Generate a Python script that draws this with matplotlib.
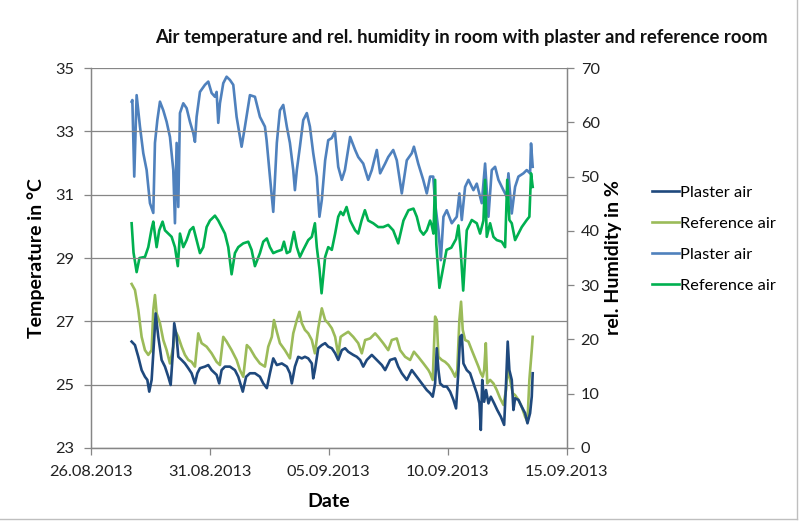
import matplotlib
matplotlib.use('Agg')
import matplotlib.pyplot as plt
import matplotlib.dates as mdates
from matplotlib.lines import Line2D
import numpy as np
import pandas as pd

START = pd.Timestamp('2013-08-26')

# (days since 26.08.2013, value) readings
plaster_temp = [
    (1.72, 26.36), (1.86, 26.25), (2.00, 25.88), (2.14, 25.46), (2.28, 25.25), (2.38, 25.15),
    (2.46, 24.78), (2.56, 25.15), (2.63, 25.99), (2.73, 27.25), (2.84, 26.51), (2.98, 25.78),
    (3.12, 25.57), (3.26, 25.25), (3.36, 24.99), (3.45, 25.99), (3.51, 26.94), (3.61, 26.51),
    (3.68, 25.88), (3.82, 25.78), (3.96, 25.67), (4.10, 25.52), (4.24, 25.36), (4.38, 25.04),
    (4.48, 25.36), (4.59, 25.52), (4.80, 25.57), (4.94, 25.62), (5.08, 25.46), (5.29, 25.31),
    (5.40, 25.04), (5.50, 25.46), (5.64, 25.57), (5.85, 25.57), (6.06, 25.46), (6.20, 25.25),
    (6.39, 24.78), (6.53, 25.25), (6.69, 25.36), (6.90, 25.36), (7.11, 25.25), (7.25, 25.04),
    (7.40, 24.89), (7.53, 25.36), (7.67, 25.83), (7.82, 25.62), (8.03, 25.67), (8.24, 25.57),
    (8.37, 25.36), (8.45, 25.04), (8.58, 25.57), (8.72, 25.88), (8.87, 25.83), (9.00, 25.88),
    (9.14, 25.83), (9.29, 25.67), (9.35, 25.20), (9.42, 25.46), (9.56, 26.15), (9.71, 26.25),
    (9.85, 26.31), (9.98, 26.20), (10.13, 26.15), (10.27, 25.99), (10.40, 25.78), (10.55, 26.09),
    (10.69, 26.15), (10.82, 26.04), (11.03, 25.94), (11.18, 25.88), (11.32, 25.78), (11.45, 25.57),
    (11.60, 25.78), (11.81, 25.94), (12.02, 25.78), (12.23, 25.62), (12.37, 25.46), (12.58, 25.78),
    (12.79, 25.83), (12.92, 25.57), (13.07, 25.36), (13.28, 25.15), (13.49, 25.46), (13.70, 25.25),
    (13.91, 25.04), (14.12, 24.83), (14.26, 24.73), (14.37, 24.62), (14.47, 25.04), (14.54, 26.15),
    (14.61, 25.46), (14.68, 25.04), (14.82, 24.94), (14.96, 24.94), (15.10, 24.78), (15.24, 24.52),
    (15.35, 24.25), (15.45, 25.46), (15.52, 26.51), (15.59, 26.57), (15.66, 25.67), (15.80, 25.46),
    (15.94, 25.36), (16.08, 25.04), (16.22, 24.73), (16.33, 24.41), (16.39, 23.57), (16.45, 25.15),
    (16.53, 24.46), (16.61, 24.83), (16.71, 24.41), (16.81, 24.62), (16.95, 24.41), (17.08, 24.20),
    (17.23, 23.99), (17.37, 23.73), (17.45, 25.04), (17.52, 26.36), (17.59, 25.46), (17.69, 25.15),
    (17.76, 24.20), (17.83, 24.57), (17.97, 24.52), (18.11, 24.30), (18.25, 24.10), (18.35, 23.78),
    (18.46, 24.10), (18.53, 24.62), (18.57, 25.36),
]

reference_temp = [
    (1.72, 28.18), (1.86, 27.99), (2.00, 27.36), (2.14, 26.51), (2.28, 26.09), (2.42, 25.94),
    (2.56, 26.09), (2.63, 27.36), (2.70, 27.83), (2.77, 27.25), (2.91, 26.94), (3.05, 26.41),
    (3.19, 26.09), (3.33, 25.67), (3.47, 26.20), (3.54, 26.73), (3.68, 26.51), (3.82, 26.20),
    (3.96, 25.94), (4.10, 25.78), (4.24, 25.72), (4.38, 25.57), (4.52, 26.62), (4.66, 26.31),
    (4.87, 26.20), (5.08, 25.99), (5.29, 25.72), (5.43, 25.62), (5.57, 26.51), (5.71, 26.36),
    (5.92, 26.09), (6.13, 25.78), (6.27, 25.46), (6.41, 25.25), (6.56, 26.25), (6.69, 26.15),
    (6.90, 25.88), (7.11, 25.67), (7.32, 25.57), (7.46, 26.20), (7.61, 26.51), (7.70, 27.04),
    (7.82, 26.67), (7.95, 26.31), (8.16, 26.09), (8.37, 25.83), (8.51, 26.62), (8.66, 27.04),
    (8.77, 27.30), (8.87, 26.94), (9.00, 26.73), (9.14, 26.62), (9.29, 26.41), (9.42, 25.99),
    (9.56, 26.78), (9.71, 27.41), (9.85, 27.04), (9.98, 26.94), (10.13, 26.78), (10.27, 26.51),
    (10.40, 25.94), (10.50, 26.51), (10.61, 26.57), (10.82, 26.67), (11.03, 26.51), (11.24, 26.31),
    (11.39, 25.99), (11.53, 26.41), (11.74, 26.46), (11.95, 26.62), (12.08, 26.51), (12.29, 26.31),
    (12.50, 26.09), (12.65, 26.41), (12.86, 26.46), (13.00, 26.09), (13.21, 25.88), (13.42, 25.78),
    (13.58, 26.04), (13.76, 25.88), (13.98, 25.67), (14.19, 25.46), (14.26, 25.36), (14.37, 25.15),
    (14.47, 27.15), (14.54, 27.04), (14.61, 25.88), (14.75, 25.78), (14.89, 25.72), (15.03, 25.62),
    (15.17, 25.46), (15.31, 25.25), (15.40, 25.46), (15.49, 27.04), (15.56, 27.62), (15.63, 26.73),
    (15.73, 26.41), (15.87, 26.36), (16.01, 26.09), (16.15, 25.83), (16.29, 25.57), (16.39, 25.36),
    (16.47, 25.25), (16.53, 25.46), (16.60, 26.31), (16.66, 25.04), (16.78, 25.15), (16.92, 25.04),
    (17.06, 24.83), (17.20, 24.57), (17.34, 24.36), (17.45, 24.83), (17.50, 25.46), (17.62, 25.15),
    (17.73, 24.73), (17.83, 24.67), (17.97, 24.52), (18.11, 24.30), (18.25, 23.99), (18.35, 23.83),
    (18.43, 25.15), (18.53, 26.09), (18.57, 26.51),
]

plaster_rh = [
    (1.72, 63.8), (1.75, 64.1), (1.83, 50.0), (1.93, 65.0), (2.07, 59.2), (2.21, 54.3),
    (2.35, 51.2), (2.49, 45.1), (2.63, 43.3), (2.70, 56.2), (2.80, 60.4), (2.91, 63.8),
    (3.05, 62.2), (3.19, 60.1), (3.33, 57.3), (3.47, 51.2), (3.54, 41.4), (3.61, 56.2),
    (3.68, 44.4), (3.75, 61.7), (3.89, 63.5), (4.03, 62.6), (4.17, 60.1), (4.31, 58.0),
    (4.38, 56.4), (4.45, 61.0), (4.59, 65.6), (4.80, 66.9), (4.94, 67.5), (5.08, 65.4),
    (5.22, 64.7), (5.29, 65.6), (5.36, 59.9), (5.43, 63.5), (5.57, 67.2), (5.71, 68.4),
    (5.85, 67.8), (5.99, 66.9), (6.13, 61.0), (6.34, 55.5), (6.48, 59.2), (6.69, 65.0),
    (6.90, 64.7), (7.11, 61.0), (7.32, 59.2), (7.39, 56.7), (7.53, 50.0), (7.67, 43.5),
    (7.82, 56.2), (7.95, 62.2), (8.09, 63.2), (8.24, 59.2), (8.37, 56.2), (8.51, 51.2),
    (8.58, 47.5), (8.66, 51.2), (8.79, 55.5), (8.93, 60.4), (9.08, 61.7), (9.21, 59.2),
    (9.35, 54.3), (9.50, 50.0), (9.61, 42.6), (9.71, 45.7), (9.85, 53.0), (9.98, 56.7),
    (10.13, 57.1), (10.26, 58.3), (10.40, 51.8), (10.55, 49.4), (10.68, 51.2), (10.90, 57.3),
    (11.11, 54.9), (11.24, 53.6), (11.45, 52.4), (11.66, 49.4), (11.81, 51.2), (12.02, 54.9),
    (12.16, 50.6), (12.37, 52.4), (12.50, 53.6), (12.71, 54.9), (12.86, 53.0), (13.07, 46.9),
    (13.28, 53.0), (13.49, 54.3), (13.58, 55.5), (13.76, 52.4), (13.97, 49.4), (14.12, 46.9),
    (14.26, 50.0), (14.39, 50.0), (14.47, 45.1), (14.61, 40.1), (14.71, 34.6), (14.82, 42.6),
    (14.96, 43.8), (15.17, 41.4), (15.38, 42.6), (15.49, 46.9), (15.59, 42.0), (15.73, 48.1),
    (15.87, 49.4), (16.08, 47.5), (16.22, 48.7), (16.43, 45.1), (16.57, 52.4), (16.71, 42.6),
    (16.85, 51.2), (16.99, 51.8), (17.13, 49.4), (17.34, 47.5), (17.48, 46.3), (17.55, 50.6),
    (17.69, 43.2), (17.83, 48.1), (17.97, 50.0), (18.18, 50.6), (18.32, 51.2), (18.46, 50.6),
    (18.50, 56.1), (18.57, 51.8),
]

reference_rh = [
    (1.72, 41.4), (1.80, 36.0), (1.93, 32.4), (2.05, 35.0), (2.28, 35.2), (2.42, 37.0),
    (2.56, 40.4), (2.63, 41.7), (2.70, 39.3), (2.77, 37.0), (2.88, 40.1), (3.02, 41.7),
    (3.12, 40.1), (3.26, 39.5), (3.40, 38.9), (3.54, 37.0), (3.66, 33.5), (3.75, 39.5),
    (3.89, 37.0), (4.03, 38.3), (4.17, 40.1), (4.31, 40.7), (4.45, 38.3), (4.59, 35.9),
    (4.73, 37.0), (4.87, 40.7), (5.01, 41.9), (5.22, 42.8), (5.36, 41.9), (5.50, 40.7),
    (5.64, 39.5), (5.78, 37.0), (5.92, 32.0), (6.06, 35.9), (6.20, 37.0), (6.41, 37.7),
    (6.62, 38.0), (6.76, 36.5), (6.90, 33.5), (7.11, 35.9), (7.25, 38.0), (7.40, 38.6),
    (7.53, 37.0), (7.67, 35.9), (7.82, 36.2), (8.02, 36.5), (8.12, 38.0), (8.24, 35.9),
    (8.37, 36.2), (8.54, 39.8), (8.66, 37.0), (8.79, 35.2), (8.93, 36.5), (9.14, 38.3),
    (9.29, 38.9), (9.42, 41.4), (9.50, 37.0), (9.61, 33.0), (9.70, 28.5), (9.85, 35.2),
    (9.98, 37.0), (10.13, 36.5), (10.27, 39.5), (10.40, 42.6), (10.50, 43.5), (10.61, 42.9),
    (10.75, 44.4), (10.90, 41.9), (11.11, 40.1), (11.24, 39.5), (11.38, 41.9), (11.52, 43.8),
    (11.66, 41.9), (11.87, 41.4), (12.08, 40.7), (12.29, 40.7), (12.50, 41.1), (12.71, 40.1),
    (12.92, 37.7), (13.14, 41.9), (13.35, 43.8), (13.56, 44.1), (13.70, 42.6), (13.84, 40.1),
    (13.98, 39.3), (14.12, 40.1), (14.26, 41.9), (14.33, 41.0), (14.40, 39.5), (14.47, 49.4),
    (14.52, 37.5), (14.65, 29.5), (14.80, 33.0), (14.95, 36.5), (15.15, 36.9), (15.35, 38.5),
    (15.45, 41.0), (15.55, 36.0), (15.65, 29.0), (15.80, 40.1), (16.01, 42.0), (16.22, 41.4),
    (16.36, 39.5), (16.50, 41.9), (16.57, 49.4), (16.64, 38.9), (16.78, 41.4), (16.92, 38.9),
    (17.06, 38.3), (17.27, 38.0), (17.41, 37.0), (17.50, 49.4), (17.59, 42.0), (17.69, 41.4),
    (17.83, 38.3), (17.97, 39.5), (18.11, 40.7), (18.32, 42.0), (18.43, 42.6), (18.50, 50.6),
    (18.57, 48.1),
]

temp_ticks = [23, 25, 27, 29, 31, 33, 35]
rh_ticks = [0, 10, 20, 30, 40, 50, 60, 70]
date_ticks = pd.date_range('2013-08-26', '2013-09-15', freq='5D')

COL_PT = '#1F497D'
COL_RT = '#9BBB59'
COL_PH = '#4F81BD'
COL_RH = '#00B050'
GRID = '#868686'

plt.rcParams['font.family'] = ['Lato', 'DejaVu Sans']


def to_series(pairs):
    d = np.array([p[0] for p in pairs])
    v = np.array([p[1] for p in pairs])
    t = START + pd.to_timedelta(d, unit='D')
    return t, v


fig = plt.figure(figsize=(8.04, 5.26), dpi=100)
ax = fig.add_axes([0.1128, 0.1483, 0.5921, 0.7224])
ax2 = ax.twinx()

lw = 1.9
t, v = to_series(plaster_rh)
ax2.plot(t, v, color=COL_PH, lw=lw)
t, v = to_series(reference_rh)
ax2.plot(t, v, color=COL_RH, lw=lw)
t, v = to_series(plaster_temp)
ax.plot(t, v, color=COL_PT, lw=lw, zorder=3)
t, v = to_series(reference_temp)
ax.plot(t, v, color=COL_RT, lw=lw, zorder=2)

# temperature curves drawn over the humidity ones
ax.set_zorder(ax2.get_zorder() + 1)
ax.patch.set_visible(False)

ax.set_ylim(23, 35)
ax.set_yticks(temp_ticks)
ax2.set_ylim(0, 70)
ax2.set_yticks(rh_ticks)
ax.set_xlim(date_ticks[0], date_ticks[-1])
ax.set_xticks(date_ticks)
ax.xaxis.set_major_formatter(mdates.DateFormatter('%d.%m.%Y'))

ax.grid(axis='y', color=GRID, lw=0.9)
for a in (ax, ax2):
    for s in a.spines.values():
        s.set_color(GRID)
        s.set_linewidth(0.9)
    a.spines['top'].set_visible(False)
    a.tick_params(colors=GRID, length=5, width=0.9, labelcolor='#222222', labelsize=11.8)
ax.tick_params(axis='x', pad=7)
ax.tick_params(axis='y', pad=7)
ax2.tick_params(axis='y', pad=5)

ax.set_ylabel('Temperature in °C', fontsize=14, fontweight='bold', labelpad=7)
ax.set_xlabel('Date', fontsize=14, fontweight='bold', labelpad=10)
ax2.set_ylabel('rel. Humidity in %', fontsize=14, fontweight='bold', labelpad=4)

fig.text(0.5734, 0.928, 'Air temperature and rel. humidity in room with plaster and reference room',
         ha='center', va='center', fontsize=13.3, fontweight='bold', color='#111111')

handles = [Line2D([], [], color=c, lw=1.9) for c in (COL_PT, COL_RT, COL_PH, COL_RH)]
labels = ['Plaster air', 'Reference air', 'Plaster air', 'Reference air']
fig.legend(handles, labels, loc='center left', bbox_to_anchor=(0.793, 0.5456),
           frameon=False, fontsize=11.8, handlelength=1.6, handletextpad=0.1,
           labelspacing=1.0)

# chart area outline on the right and bottom edges
fig.add_artist(Line2D([797 / 804, 797 / 804], [1 - 519 / 526, 1.0],
                      transform=fig.transFigure, color='#BFBFBF', lw=1.0))
fig.add_artist(Line2D([0.0, 797 / 804], [1 - 519 / 526, 1 - 519 / 526],
                      transform=fig.transFigure, color='#BFBFBF', lw=1.0))

fig.savefig('out.png', dpi=100)
